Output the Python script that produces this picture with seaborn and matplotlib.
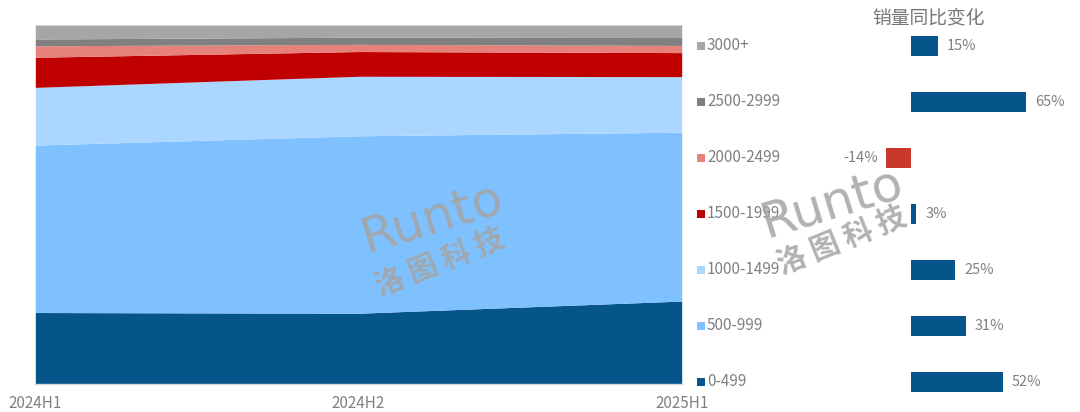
import matplotlib
matplotlib.use("Agg")
import matplotlib.pyplot as plt
import seaborn as sns
import numpy as np
import pandas as pd

# ---------------- data ----------------
periods = ["2024H1", "2024H2", "2025H1"]
segments = ["0-499", "500-999", "1000-1499", "1500-1999", "2000-2499", "2500-2999", "3000+"]
share_0_499 = [19.8, 19.6, 23.0]
share_500_999 = [46.7, 49.5, 47.1]
share_1000_1499 = [16.1, 16.6, 15.5]
share_1500_1999 = [8.4, 6.9, 6.7]
share_2000_2499 = [3.2, 2.0, 2.0]
share_2500_2999 = [1.9, 2.0, 2.2]
share_3000_plus = [3.9, 3.4, 3.5]
yoy_change = [52, 31, 25, 3, -14, 65, 15]  # same order as segments
yoy_title = "销量同比变化"

seg_colors = ["#06558A", "#7FC1FF", "#ABD6FF", "#C00000", "#E6827A", "#808080", "#A6A6A6"]

# ---------------- style ----------------
sns.set_theme(style="white")
plt.rcParams["font.family"] = ["Noto Sans CJK SC", "DejaVu Sans"]
txt_gray = "#808080"

fig = plt.figure(figsize=(10.8, 4.12), dpi=100)

# ---------------- stacked area ----------------
ax = fig.add_axes([35.3 / 1080, 1 - 383.5 / 412, (681.7 - 35.3) / 1080, (383.5 - 25) / 412])
shares = [share_0_499, share_500_999, share_1000_1499, share_1500_1999,
          share_2000_2499, share_2500_2999, share_3000_plus]
x = np.arange(len(periods))
ax.stackplot(x, *shares, colors=seg_colors, labels=segments, linewidth=0)
ax.set_xlim(0, len(periods) - 1)
ax.set_ylim(0, sum(s[0] for s in shares))
ax.set_xticks(x)
ax.set_xticklabels(periods, fontsize=11, color=txt_gray)
ax.set_yticks([])
ax.tick_params(axis="x", length=0, pad=8)
for side in ["top", "right", "left"]:
    ax.spines[side].set_visible(False)
ax.spines["bottom"].set_color("#D9D9D9")
ax.spines["bottom"].set_linewidth(1)

# ---------------- yoy bars + legend ----------------
bx = fig.add_axes([690 / 1080, 1 - 409.7 / 412, 390 / 1080, (409.7 - 17.7) / 412])
order = segments[::-1]  # 3000+ at top
yoy_map = dict(zip(segments, yoy_change))
df = pd.DataFrame({"segment": order, "yoy": [yoy_map[s] for s in order]})
df["sign"] = np.where(df["yoy"] < 0, "neg", "pos")
sns.barplot(data=df, x="yoy", y="segment", hue="sign", order=order,
            palette={"pos": "#06558A", "neg": "#C9392B"}, width=0.36,
            legend=False, ax=bx, saturation=1, edgecolor="none")
px_per_unit = 1.77
zero_px = 911 - 690
bx.set_xlim(-zero_px / px_per_unit, (390 - zero_px) / px_per_unit)
bx.set_ylim(len(order) - 0.5, -0.5)
bx.axis("off")

for i, seg in enumerate(order):
    v = yoy_map[seg]
    if v >= 0:
        bx.text(v + 9 / px_per_unit, i, f"{v}%", va="center", ha="left",
                fontsize=10.5, color=txt_gray)
    else:
        bx.text(v - 8 / px_per_unit, i, f"{v}%", va="center", ha="right",
                fontsize=10.5, color=txt_gray)
    # legend marker + label
    col = seg_colors[segments.index(seg)]
    bx.scatter([(700.5 - 690) / 390], [i], transform=bx.get_yaxis_transform(),
               marker="s", s=30, color=col, linewidths=0, clip_on=False)
    bx.text((707 - 690) / 390, i, seg, transform=bx.get_yaxis_transform(),
            va="center", ha="left", fontsize=11, color=txt_gray)

fig.text(929 / 1080, 1 - 18 / 412, yoy_title, ha="center", va="center",
         fontsize=13.5, color="#767676")

# ---------------- watermarks ----------------
for (rx, ry), (cx, cy) in [((432, 218), (440, 262)), ((832, 203), (842, 240))]:
    fig.text(rx / 1080, 1 - ry / 412, "Runto", ha="center", va="center",
             fontsize=36, color="#A4A4A4", alpha=0.85, rotation=17,
             family=["DejaVu Sans"], fontweight="normal", zorder=10)
    fig.text(cx / 1080, 1 - cy / 412, "洛 图 科 技", ha="center", va="center",
             fontsize=21, color="#A4A4A4", alpha=0.85, rotation=22,
             fontweight="bold", zorder=10)

fig.savefig("out.png", dpi=100)
